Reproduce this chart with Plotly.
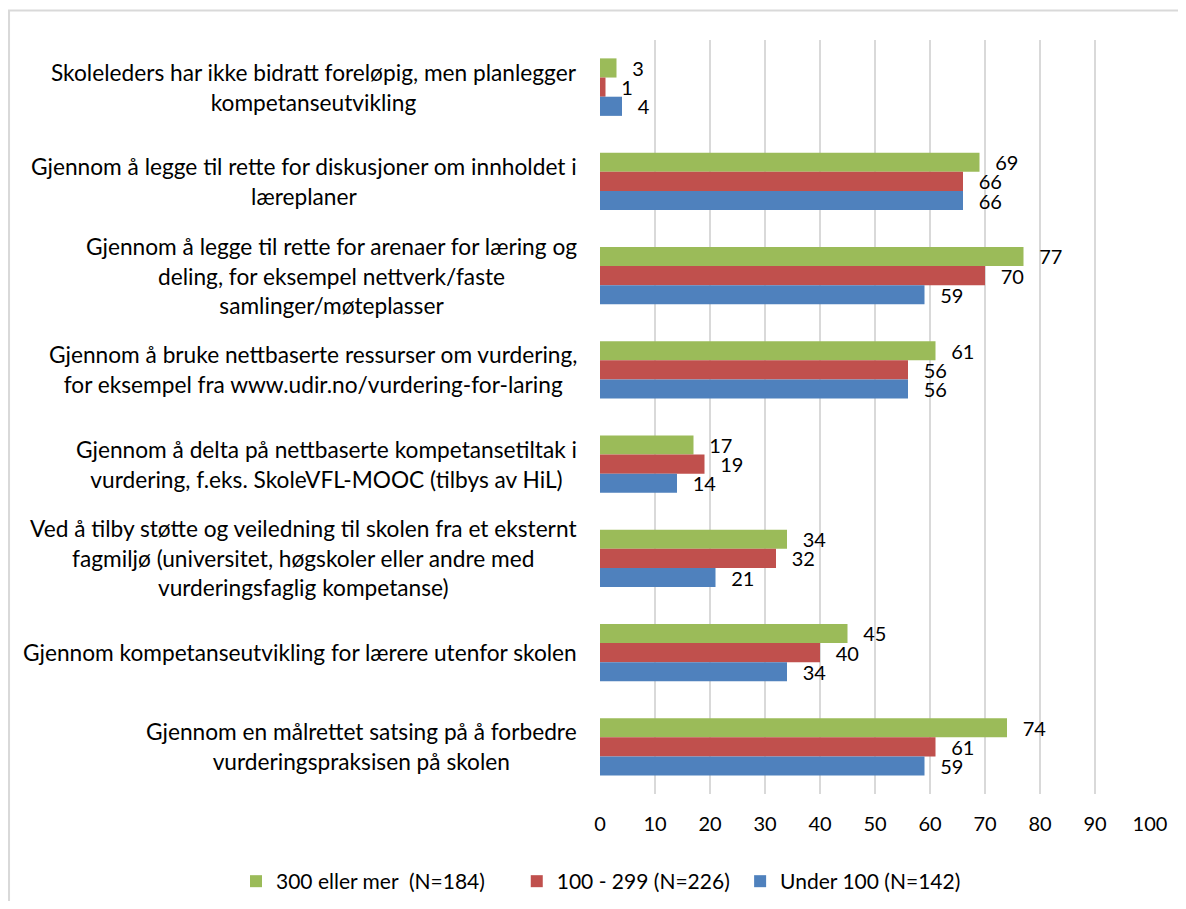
import plotly.graph_objects as go

# categories, top to bottom as shown
categories = [
    "Skoleleders har ikke bidratt foreløpig, men planlegger<br>kompetanseutvikling",
    "Gjennom å legge til rette for diskusjoner om innholdet i<br>læreplaner",
    "Gjennom å legge til rette for arenaer for læring og<br>deling, for eksempel nettverk/faste<br>samlinger/møteplasser",
    "Gjennom å bruke nettbaserte ressurser om vurdering,<br>for eksempel fra www.udir.no/vurdering-for-laring",
    "Gjennom å delta på nettbaserte kompetansetiltak i<br>vurdering, f.eks. SkoleVFL-MOOC (tilbys av HiL)",
    "Ved å tilby støtte og veiledning til skolen fra et eksternt<br>fagmiljø (universitet, høgskoler eller andre med<br>vurderingsfaglig kompetanse)",
    "Gjennom kompetanseutvikling for lærere utenfor skolen",
    "Gjennom en målrettet satsing på å forbedre<br>vurderingspraksisen på skolen",
]
cat_keys = ["c%d" % i for i in range(len(categories))]

series_names = ["300 eller mer  (N=184)", "100 - 299 (N=226)", "Under 100 (N=142)"]
series_colors = ["#9BBB59", "#C0504D", "#4F81BD"]
values_300 = [3, 69, 77, 61, 17, 34, 45, 74]
values_100 = [1, 66, 70, 56, 19, 32, 40, 61]
values_under = [4, 66, 59, 56, 14, 21, 34, 59]
all_values = [values_300, values_100, values_under]

x_ticks = list(range(0, 101, 10))

FONT = "Lato"
NBSP = "\u00a0"
# extra spacing after each legend entry, like the wider gaps in the original
legend_pad = [5, 1, 0]

fig = go.Figure()
for name, color, vals, pad in zip(series_names, series_colors, all_values, legend_pad):
    fig.add_trace(go.Bar(
        y=cat_keys,
        x=vals,
        name=name + NBSP * pad,
        orientation="h",
        marker=dict(color=color, line=dict(width=0)),
        text=[NBSP * 2 + "\u2009" + str(v) for v in vals],
        textposition="outside",
        constraintext="none",
        cliponaxis=False,
        textfont=dict(family=FONT, size=20, color="#000000"),
    ))

# category labels: centred text blocks, right edge against the plot
for key, label in zip(cat_keys, categories):
    fig.add_annotation(
        x=0, xref="paper", y=key, yref="y",
        text=label, showarrow=False,
        xanchor="right", yanchor="middle", align="center",
        xshift=-21,
        font=dict(family=FONT, size=22.7, color="#000000"),
    )

# outer chart border (only left/top edges fall inside the picture)
fig.add_shape(type="rect", xref="paper", yref="paper",
              x0=-1.0745, x1=1.2, y0=-0.3, y1=1.039,
              line=dict(color="#D9D9D9", width=2), fillcolor="rgba(0,0,0,0)")

fig.update_layout(
    width=1170, height=893,
    margin=dict(l=592, r=28, t=32, b=107, autoexpand=False),
    plot_bgcolor="white", paper_bgcolor="white",
    barmode="group", bargap=0.39, bargroupgap=0,
    font=dict(family=FONT, size=20, color="#000000"),
    showlegend=True,
    legend=dict(orientation="h", x=-0.6618, xanchor="left", y=-0.0889, yanchor="top",
                font=dict(family=FONT, size=21, color="#000000"),
                itemwidth=30, traceorder="normal"),
)
fig.update_xaxes(
    range=[0, 100], tickvals=x_ticks, showgrid=True, gridcolor="#D9D9D9", gridwidth=2,
    zeroline=False, showline=False, ticks="",
    ticklabelstandoff=16, tickfont=dict(family=FONT, size=20),
)
fig.update_yaxes(
    autorange="reversed", showticklabels=False, showgrid=False, zeroline=False,
    showline=False,
)

fig.write_html("out.html")
